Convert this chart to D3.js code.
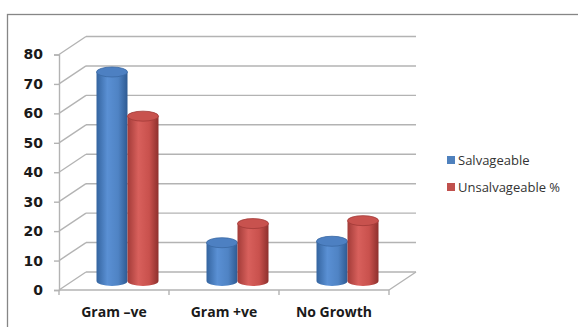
<!DOCTYPE html>
<html>
<head>
<meta charset="utf-8">
<script src="https://cdn.jsdelivr.net/npm/d3@7"></script>
<style>
  html, body { margin: 0; padding: 0; background: #fff; }
  svg { display: block; }
</style>
</head>
<body>
<svg id="chart" width="578" height="327"></svg>
<script>
// Categories, series and axis ticks
const categories = ["Gram \u2013ve", "Gram +ve", "No Growth"];
const salvageable = [71, 13, 13.5];
const unsalvageable = [56, 19.5, 20.5];
const yTicks = [0, 10, 20, 30, 40, 50, 60, 70, 80];
const seriesNames = ["Salvageable", "Unsalvageable %"];

const svg = d3.select("#chart");

// Outer chart frame
svg.append("rect")
  .attr("x", 7.5).attr("y", 14.5)
  .attr("width", 600).attr("height", 340)
  .attr("fill", "#fff").attr("stroke", "#868686").attr("stroke-width", 1.3);

// 3D geometry: front plane scales plus a depth offset for the back wall
const depth = { dx: 27, dy: -18 };
const y = d3.scaleLinear().domain([0, 80]).range([290, 54.5]);
const x = d3.scaleBand().domain(categories).range([59, 389]);
const x0 = x.range()[0], x1 = x.range()[1];

const gridColor = "#b3b3b3";
const grid = svg.append("g").attr("stroke", gridColor).attr("stroke-width", 1.4).attr("fill", "none");

// Back wall gridlines and left wall diagonals
yTicks.forEach(t => {
  grid.append("line")
    .attr("x1", x0 + depth.dx).attr("x2", x1 + depth.dx)
    .attr("y1", y(t) + depth.dy).attr("y2", y(t) + depth.dy);
  grid.append("line")
    .attr("x1", x0).attr("y1", y(t))
    .attr("x2", x0 + depth.dx).attr("y2", y(t) + depth.dy);
});

// Floor: front edge and right diagonal
grid.append("line").attr("x1", x0).attr("x2", x1).attr("y1", y(0)).attr("y2", y(0));
grid.append("line").attr("x1", x1).attr("y1", y(0)).attr("x2", x1 + depth.dx).attr("y2", y(0) + depth.dy);

// Value axis
const yAxis = svg.append("g")
  .attr("transform", `translate(${x0},0)`)
  .call(d3.axisLeft(y).tickValues(yTicks).tickSize(5).tickPadding(11).tickFormat(d3.format("d")));
yAxis.select(".domain").attr("stroke", gridColor).attr("stroke-width", 1.4);
yAxis.selectAll(".tick line").attr("stroke", gridColor).attr("stroke-width", 1.4);
yAxis.selectAll(".tick text")
  .attr("fill", "#1a1a1a")
  .style("font-family", "'DejaVu Sans', sans-serif")
  .style("font-weight", "bold")
  .style("font-size", "14px");

// Category axis: tick marks on band boundaries, labels centred on bands
const catTicks = categories.map(c => x(c) + x.bandwidth()).concat([x0]);
svg.append("g").selectAll("line").data(catTicks).join("line")
  .attr("x1", d => d).attr("x2", d => d)
  .attr("y1", y(0)).attr("y2", y(0) + 5)
  .attr("stroke", gridColor).attr("stroke-width", 1.4);

svg.append("g").selectAll("text").data(categories).join("text")
  .attr("x", d => x(d) + x.bandwidth() / 2)
  .attr("y", 317)
  .attr("text-anchor", "middle")
  .attr("fill", "#1a1a1a")
  .style("font-family", "'Open Sans', sans-serif")
  .style("font-weight", "bold")
  .style("font-size", "14px")
  .text(d => d);

// Cylinder shading
const defs = svg.append("defs");
const palettes = [
  { id: "gBlue", stops: ["#34649f", "#5a90d4", "#4f83c4", "#2e5a92"], top: "#4d80c2", rim: "#3a68a3" },
  { id: "gRed",  stops: ["#a23b38", "#d8605c", "#c9514d", "#8e302d"], top: "#c8524e", rim: "#a13a37" }
];
palettes.forEach(p => {
  const g = defs.append("linearGradient").attr("id", p.id).attr("x1", "0%").attr("x2", "100%");
  [0, 0.35, 0.7, 1].forEach((o, i) => g.append("stop").attr("offset", o).attr("stop-color", p.stops[i]));
});

// Bars sit halfway into the depth of the plot
const mid = { dx: depth.dx / 2, dy: depth.dy / 2 };
const barW = 31;
const rx = barW / 2, ry = 5;
const series = [salvageable, unsalvageable];
const bars = svg.append("g");

categories.forEach((c, ci) => {
  const cx = x(c) + x.bandwidth() / 2 + mid.dx;
  series.forEach((vals, si) => {
    const p = palettes[si];
    const left = cx - barW + si * barW;
    const yb = y(0) + mid.dy;
    const yt = y(vals[ci]) + mid.dy;
    const body = `M${left},${yt} L${left},${yb} A${rx},${ry} 0 0 0 ${left + barW},${yb} L${left + barW},${yt} Z`;
    bars.append("path").attr("d", body).attr("fill", `url(#${p.id})`);
    bars.append("ellipse")
      .attr("cx", left + rx).attr("cy", yt)
      .attr("rx", rx).attr("ry", ry)
      .attr("fill", p.top).attr("stroke", p.rim).attr("stroke-width", 0.8);
  });
});

// Legend
const legend = svg.append("g").attr("transform", "translate(447,156)");
const legendColors = ["#4f81bd", "#c0504d"];
seriesNames.forEach((name, i) => {
  const row = legend.append("g").attr("transform", `translate(0,${i * 27})`);
  row.append("rect").attr("width", 8).attr("height", 8).attr("fill", legendColors[i]);
  row.append("text")
    .attr("x", 11).attr("y", 9)
    .attr("fill", "#333")
    .style("font-family", "'Open Sans', sans-serif")
    .style("font-size", "13px")
    .text(name);
});
</script>
</body>
</html>
